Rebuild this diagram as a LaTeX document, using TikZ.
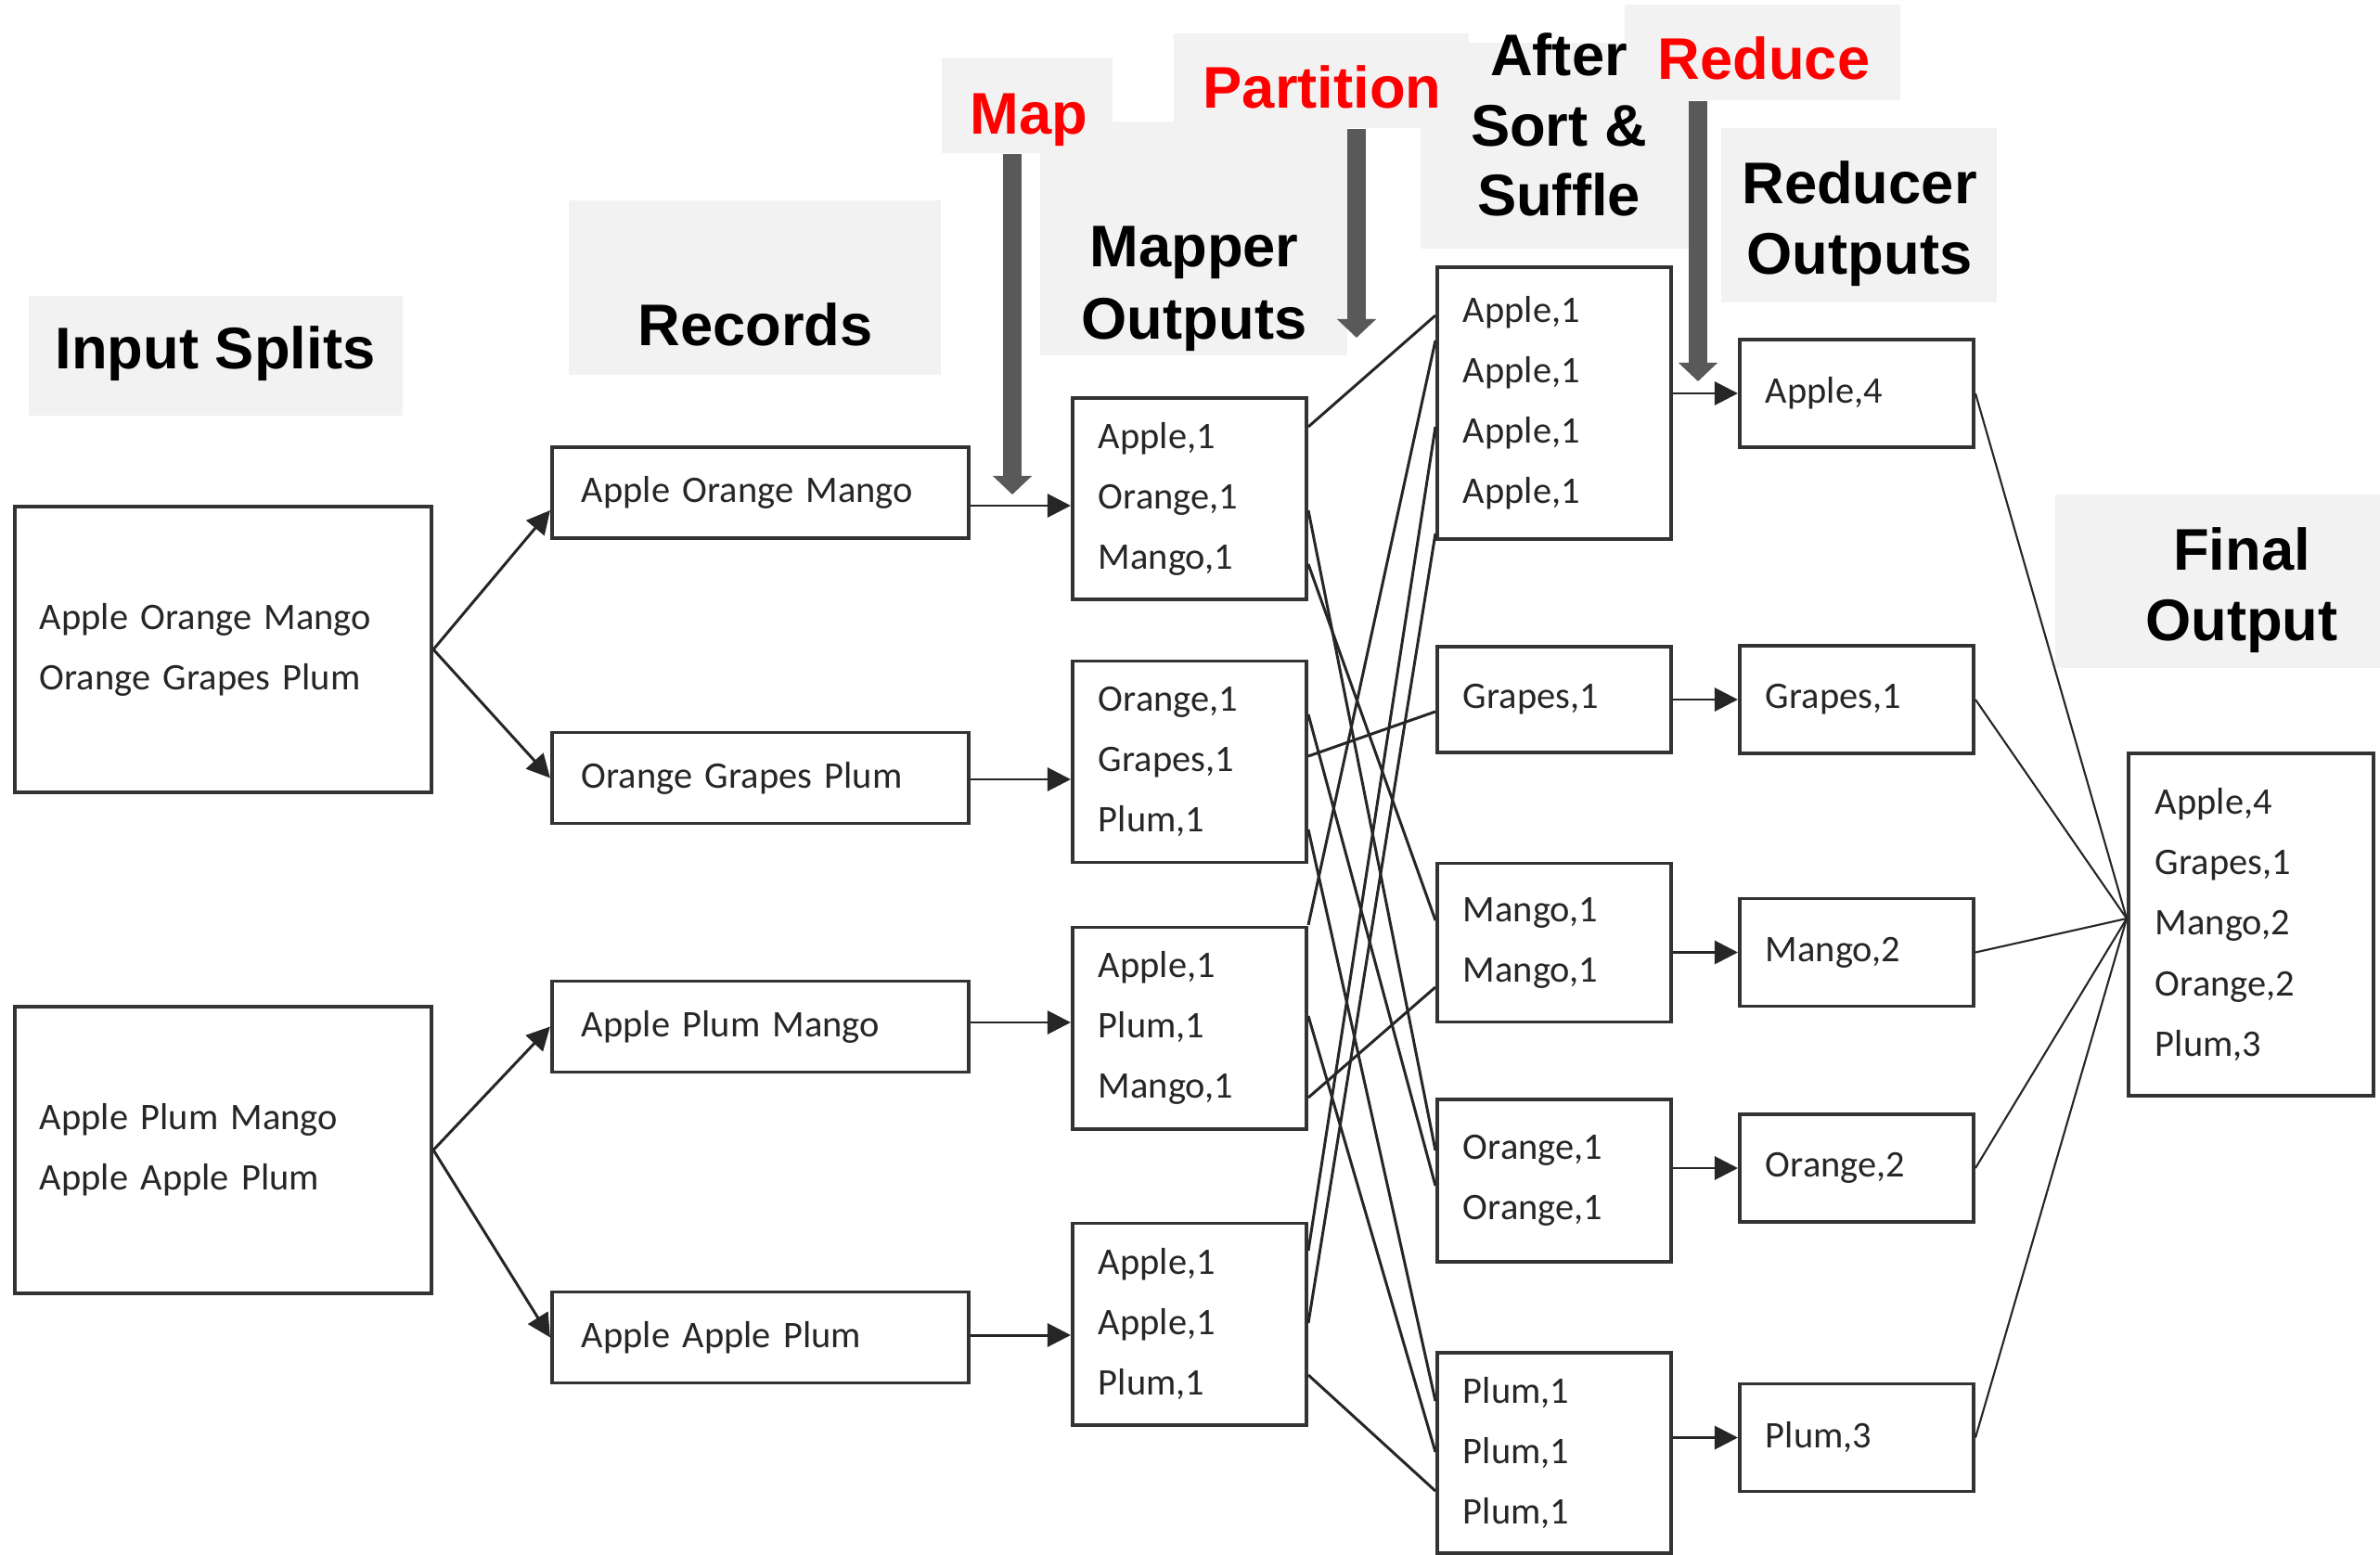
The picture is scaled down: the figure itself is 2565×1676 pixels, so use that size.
\documentclass[tikz,border=0pt]{standalone}
\usepackage{fontspec}
\usetikzlibrary{arrows.meta}
\newfontfamily\carlito{Carlito}
\newfontfamily\arialfam{Liberation Sans}
\newcommand{\boxfont}{\carlito\fontsize{11.5}{18.5}\selectfont}
\newcommand{\headfont}{\arialfam\bfseries\fontsize{18}{21.6}\selectfont}
\definecolor{hdrgray}{HTML}{F2F2F2}
\definecolor{fatgray}{HTML}{595959}
\definecolor{stagered}{HTML}{FF0000}
\tikzset{
  box/.style={draw=black!80, line width=1.1pt, fill=white, font=\boxfont,
    text=black!85, align=left, inner ysep=0pt},
  splitbox/.style={box, inner xsep=0.27cm, text width=3.95cm},
  recbox/.style={box, inner xsep=0.32cm, text width=3.85cm, minimum height=0.98cm},
  kvbox/.style={box, inner xsep=0.28cm, text width=1.96cm},
  hdrbg/.style={fill=hdrgray, inner sep=0pt},
  hdr/.style={font=\headfont, inner sep=0pt, anchor=base},
  stage/.style={hdr, text=stagered},
  link/.style={line width=0.85pt, draw=black!85},
  thinlink/.style={line width=0.6pt, draw=black!85},
  fat/.style={line width=0.2cm, draw=fatgray, -{Triangle[length=0.2cm,width=0.41cm]}}
}

\begin{document}
\begin{tikzpicture}[x=0.01cm, y=-0.01cm, >={Triangle[length=0.25cm,width=0.25cm]}]
  \useasboundingbox (0,0) rectangle (2565,1676);

  % grey header panels
  \node[hdrbg, minimum width=4.03cm, minimum height=1.29cm] (inbg) at (232.5,383.5) {};
  \node[hdrbg, minimum width=4.01cm, minimum height=1.88cm] (recbg) at (813.5,310) {};
  \node[hdrbg, minimum width=3.31cm, minimum height=2.52cm] (mobg) at (1286.5,257) {};
  \node[hdrbg, minimum width=1.84cm, minimum height=1.03cm] (mapbg) at (1107,113.5) {};
  \node[hdrbg, minimum width=2.89cm, minimum height=2.22cm] (afterbg) at (1675.5,157) {};
  \node[hdrbg, minimum width=3.18cm, minimum height=1.02cm] (partbg) at (1424,87) {};
  \node[hdrbg, minimum width=2.97cm, minimum height=1.03cm] (redbg) at (1899.5,56.5) {};
  \node[hdrbg, minimum width=2.97cm, minimum height=1.88cm] (robg) at (2003.5,232) {};
  \node[hdrbg, minimum width=3.50cm, minimum height=1.87cm] (finbg) at (2390,626.5) {};

  \coordinate (maptip) at (1091,533);
  \coordinate (parttip) at (1462,364);
  \coordinate (redtip) at (1830,411);
  \draw[fat] (mapbg.south -| maptip) -- (maptip);
  \draw[fat] (partbg.south -| parttip) -- (parttip);
  \draw[fat] (redbg.south -| redtip) -- (redtip);

  \node[hdr] (hinput) at (232,397) {Input Splits};
  \node[hdr] (hrecords) at (814,373) {Records};
  \node[stage] (hmap) at (1109,145) {Map};
  \node[hdr] (hmapper) at (1287,288) {Mapper};
  \node[hdr] (hmapout) at (1287,366) {Outputs};
  \node[stage] (hpart) at (1425,117) {Partition};
  \node[hdr] (hafter) at (1680,82) {After};
  \node[hdr] (hsort) at (1680,158) {Sort \&};
  \node[hdr] (hsuffle) at (1680,233) {Suffle};
  \node[stage] (hreduce) at (1901,86) {Reduce};
  \node[hdr] (hreducer) at (2004,220) {Reducer};
  \node[hdr] (hredout) at (2004,296) {Outputs};
  \node[hdr] (hfinal) at (2416,614) {Final};
  \node[hdr] (hfinout) at (2416,690) {Output};

  % boxes
  \node[splitbox, minimum height=3.08cm] (in1) at (240.5,700) {Apple Orange Mango\\Orange Grapes Plum};
  \node[splitbox, minimum height=3.09cm] (in2) at (240.5,1239.5) {Apple Plum Mango\\Apple Apple Plum};

  \node[recbox] (r1) at (819.5,531) {Apple Orange Mango};
  \node[recbox] (r2) at (819.5,838.5) {Orange Grapes Plum};
  \node[recbox] (r3) at (819.5,1106.5) {Apple Plum Mango};
  \node[recbox] (r4) at (819.5,1441.5) {Apple Apple Plum};

  \node[kvbox, minimum height=2.17cm] (m1) at (1282,537.5) {Apple,1\\Orange,1\\Mango,1};
  \node[kvbox, minimum height=2.17cm] (m2) at (1282,821) {Orange,1\\Grapes,1\\Plum,1};
  \node[kvbox, minimum height=2.17cm] (m3) at (1282,1108) {Apple,1\\Plum,1\\Mango,1};
  \node[kvbox, minimum height=2.17cm] (m4) at (1282,1427) {Apple,1\\Apple,1\\Plum,1};

  \node[kvbox, minimum height=2.93cm] (s1) at (1675,434.5) {Apple,1\\Apple,1\\Apple,1\\Apple,1};
  \node[kvbox, minimum height=1.14cm] (s2) at (1675,754) {Grapes,1};
  \node[kvbox, minimum height=1.71cm] (s3) at (1675,1016) {Mango,1\\Mango,1};
  \node[kvbox, minimum height=1.75cm] (s4) at (1675,1272.5) {Orange,1\\Orange,1};
  \node[kvbox, minimum height=2.16cm] (s5) at (1675,1566) {Plum,1\\Plum,1\\Plum,1};

  \foreach \i/\y/\t in {1/424/{Apple,4}, 2/754/{Grapes,1}, 3/1026.5/{Mango,2},
                        4/1259/{Orange,2}, 5/1549.5/{Plum,3}}
    \node[kvbox, minimum height=1.16cm] (o\i) at (2001,\y) {\t};

  \node[box, inner xsep=0.29cm, text width=2.06cm, minimum height=3.69cm] (final)
    at (2426,996.5) {Apple,4\\Grapes,1\\Mango,2\\Orange,2\\Plum,3};

  % connectors
  \draw[->, link] (in1.east) -- (r1.west |- 0,550);
  \draw[->, link] (in1.east) -- (r2.west);
  \draw[->, link] (in2.east) -- (r3.west);
  \draw[->, link] (in2.east) -- (r4.west);

  \foreach \i/\y in {1/545,2/840,3/1102,4/1439}
    \draw[->, link] (r\i.east |- 0,\y) -- (m\i.west |- 0,\y);

  \foreach \a/\ya/\b/\yb in {1/460/1/340, 1/550/4/1240, 1/608/3/992,
      2/770/4/1278, 2/815/2/767, 2/894/5/1510,
      3/997/1/367, 3/1095/5/1565, 3/1183/3/1064,
      4/1348/1/460, 4/1426/1/575, 4/1482/5/1607}
    \draw[link] (m\a.east |- 0,\ya) -- (s\b.west |- 0,\yb);

  \foreach \i in {1,...,5}
    \draw[->, link] (s\i.east |- o\i) -- (o\i.west);

  \coordinate (join) at (final.west |- 0,990);
  \foreach \i in {1,...,5}
    \draw[thinlink] (o\i.east) -- (join);
\end{tikzpicture}
\end{document}
